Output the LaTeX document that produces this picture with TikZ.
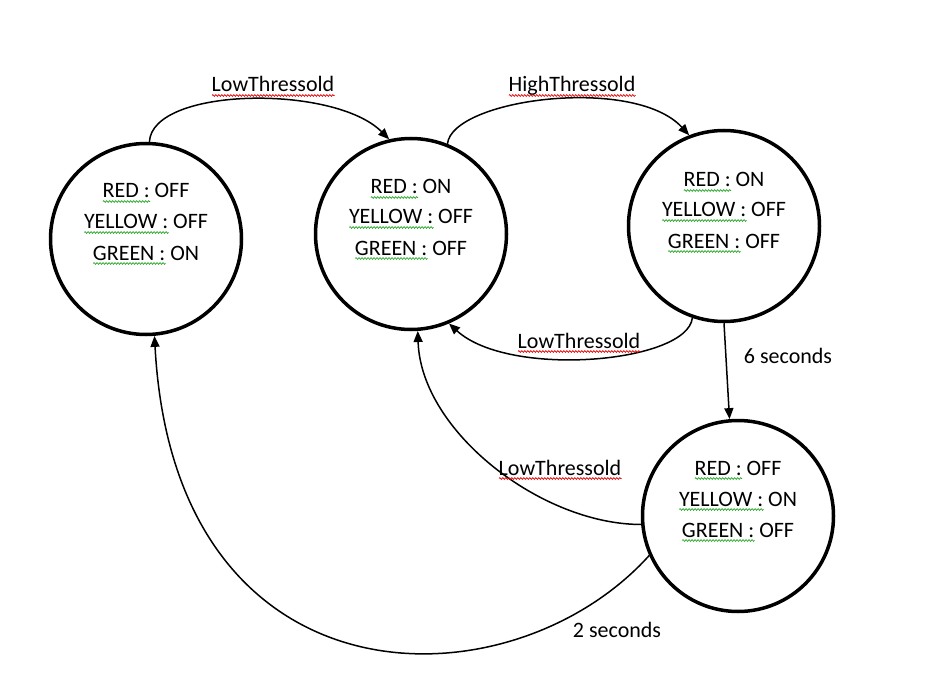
\documentclass[tikz,border=0pt]{standalone}
\usepackage{fontspec}
\setmainfont{Carlito}
\usetikzlibrary{arrows.meta,decorations.pathmorphing}
\definecolor{squigred}{RGB}{230,0,0}
\definecolor{squiggrn}{RGB}{40,170,40}
\newsavebox\sqbox
\newcommand\sq[2]{\sbox\sqbox{#2}\makebox[0pt][l]{\tikz[baseline=0pt]\draw[#1,line width=0.7pt,decorate,decoration={zigzag,segment length=3pt,amplitude=0.9pt}] (0pt,-3.5pt) -- (\wd\sqbox,-3.5pt);}\usebox\sqbox}
\newcommand\redsq[1]{\sq{squigred}{#1}}
\newcommand\grnsq[1]{\sq{squiggrn}{#1}}
\begin{document}
\begin{tikzpicture}[x=1pt,y=-1pt,
  state/.style={circle,draw,line width=3.5pt,minimum size=191pt,inner sep=0pt},
  txt/.style={font=\fontsize{22}{26}\selectfont,inner sep=0pt,anchor=base},
  edge/.style={line width=1.5pt,-{Triangle[length=11pt,width=9pt]}}]
\fill[white] (0,0) rectangle (926,679);
\useasboundingbox (0,0) rectangle (926,679);
% states
\node[state] (c1) at (146,239) {};
\node[state] (c2) at (411,234) {};
\node[state] (c3) at (724,226) {};
\node[state] (c4) at (738,516) {};
% state texts
\node[txt] (t1a) at (146,198) {\grnsq{RED :} OFF};
\node[txt] (t1b) at (146,229) {\grnsq{YELLOW :} OFF};
\node[txt] (t1c) at (146,260) {\grnsq{GREEN :} ON};
\node[txt] (t2a) at (411,194) {\grnsq{RED :} ON};
\node[txt] (t2b) at (411,224) {\grnsq{YELLOW :} OFF};
\node[txt] (t2c) at (411,255) {\grnsq{GREEN :} OFF};
\node[txt] (t3a) at (724,187) {\grnsq{RED :} ON};
\node[txt] (t3b) at (724,217) {\grnsq{YELLOW :} OFF};
\node[txt] (t3c) at (724,248) {\grnsq{GREEN :} OFF};
\node[txt] (t4a) at (738,475) {\grnsq{RED :} OFF};
\node[txt] (t4b) at (738,506) {\grnsq{YELLOW :} ON};
\node[txt] (t4c) at (738,537) {\grnsq{GREEN :} OFF};
% connectors
\draw[edge] (c1.88) .. controls +(3,-55) and +(-55,-55) .. (c2.103);
\draw[edge] (c2.68) .. controls +(5,-45) and +(-55,-60) .. (c3.111);
\draw[edge] (c3.251) .. controls +(-5,45) and +(60,55) .. (c2.293);
\draw[edge] (c3.270) -- (c4.95);
\draw[edge] (c4.185) .. controls +(-100,0) and +(3,100) .. (c2.274);
\draw[edge] (c4.204) .. controls +(-140,155) and +(20,375) .. (c1.275);
% labels
\node[txt] (l1) at (273,92) {\redsq{LowThressold}};
\node[txt] (l2) at (572,92) {\redsq{HighThressold}};
\node[txt] (l3) at (579,348) {\redsq{LowThressold}};
\node[txt] (l4) at (788,363) {6 seconds};
\node[txt] (l5) at (560,475) {\redsq{LowThressold}};
\node[txt] (l6) at (617,637) {2 seconds};
\end{tikzpicture}
\end{document}
